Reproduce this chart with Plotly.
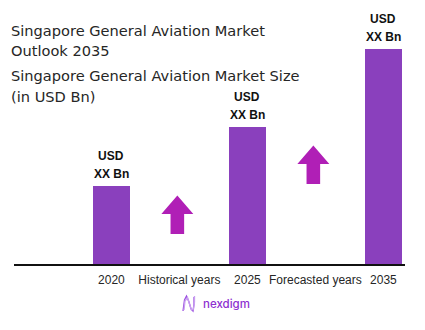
import plotly.graph_objects as go

# ---- data ----
categories = ["2020", "Historical years", "2025", "Forecasted years", "2035"]
bar_years = ["2020", "2025", "2035"]
bar_values = [7.8, 13.7, 21.5]
bar_label_top = ["USD", "USD", "USD"]
bar_label_bottom = ["XX Bn", "XX Bn", "XX Bn"]
arrow_cats = ["Historical years", "Forecasted years"]
arrow_base = [3.0, 8.0]
title_lines = ["Singapore General Aviation Market", "Outlook 2035"]
subtitle_lines = ["Singapore General Aviation Market Size", "(in USD Bn)"]

BAR_COLOR = "#8A40BD"
ARROW_COLOR = "#B01FB6"
TEXT_COLOR = "#262626"

W, H = 425, 330
ML, MR, MT, MB = 14, 20, 0, 66
PW, PH = W - ML - MR, H - MT - MB

def paper_x(px):
    return (px - ML) / PW

def paper_y(py):
    return (H - MB - py) / PH

bar_x = [categories.index(y) for y in bar_years]

fig = go.Figure()
fig.add_trace(go.Bar(
    x=bar_x, y=bar_values, width=0.545,
    marker=dict(color=BAR_COLOR, line=dict(width=0)),
    hoverinfo="skip", showlegend=False,
))

annotations = []
for xv, yv, t1, t2 in zip(bar_x, bar_values, bar_label_top, bar_label_bottom):
    annotations.append(dict(x=xv, y=yv, xref="x", yref="y", text=f"<b>{t2}</b>",
                            showarrow=False, yanchor="middle", yshift=12,
                            font=dict(family="Liberation Sans, Arial", size=12, color="#111111")))
    annotations.append(dict(x=xv, y=yv, xref="x", yref="y", text=f"<b>{t1}</b>",
                            showarrow=False, yanchor="middle", yshift=30,
                            font=dict(family="Liberation Sans, Arial", size=12, color="#111111")))

# titles
title_font = dict(family="DejaVu Sans", size=14.6, color=TEXT_COLOR)
for i, line in enumerate(title_lines):
    annotations.append(dict(x=paper_x(9), y=paper_y(30 + 20 * i), xref="paper", yref="paper",
                            text=line, showarrow=False, xanchor="left", yanchor="middle",
                            font=title_font))
for i, line in enumerate(subtitle_lines):
    annotations.append(dict(x=paper_x(9), y=paper_y(76 + 20 * i), xref="paper", yref="paper",
                            text=line, showarrow=False, xanchor="left", yanchor="middle",
                            font=title_font))

# logo text
annotations.append(dict(x=paper_x(201), y=paper_y(304), xref="paper", yref="paper",
                        text="nexdigm", showarrow=False, xanchor="left", yanchor="middle",
                        font=dict(family="Inter", size=11.5, color="#8E2FD0", weight=500)))

shapes = []
# up arrows
HEAD_HW, STEM_HW = 0.235, 0.1
STEM_H, HEAD_H = 2.0, 1.85
for cat, base in zip(arrow_cats, arrow_base):
    cx = categories.index(cat) - 0.03
    pts = [
        (cx - STEM_HW, base), (cx + STEM_HW, base), (cx + STEM_HW, base + STEM_H),
        (cx + HEAD_HW, base + STEM_H), (cx, base + STEM_H + HEAD_H),
        (cx - HEAD_HW, base + STEM_H), (cx - STEM_HW, base + STEM_H),
    ]
    path = "M " + " L ".join(f"{px},{py}" for px, py in pts) + " Z"
    shapes.append(dict(type="path", xref="x", yref="y", path=path,
                       fillcolor=ARROW_COLOR, line=dict(width=0)))

# logo icon (wave "N")
icon_a = [(183, 311), (184.5, 300), (186.5, 296), (189, 302), (191, 309), (193, 311), (194, 304), (194, 297)]
icon_b = [(184, 310), (185, 301), (187.5, 297.5), (189.5, 304), (191.5, 310), (193.5, 309), (194.5, 302), (194.5, 296)]
for pts_, col in ((icon_a, "#9B4FE0"), (icon_b, "#C9A0F0")):
    icon_path = "M " + " L ".join(f"{paper_x(a)},{paper_y(b)}" for a, b in pts_)
    shapes.append(dict(type="path", xref="paper", yref="paper", path=icon_path,
                       line=dict(color=col, width=1.3)))

fig.update_layout(
    width=W, height=H,
    margin=dict(l=ML, r=MR, t=MT, b=MB),
    paper_bgcolor="white", plot_bgcolor="white",
    xaxis=dict(range=[-1.432, 4.318], tickvals=list(range(len(categories))), ticktext=categories,
               showgrid=False, zeroline=False, showline=True, linecolor="#111111", linewidth=2,
               ticks="", ticklabelstandoff=4,
               tickfont=dict(family="Liberation Sans, Arial", size=12, color=TEXT_COLOR),
               fixedrange=True),
    yaxis=dict(range=[0, PH / 10], visible=False, showgrid=False, zeroline=False, fixedrange=True),
    annotations=annotations,
    shapes=shapes,
    bargap=0,
)

fig.write_html("out.html", config={"displayModeBar": False})
